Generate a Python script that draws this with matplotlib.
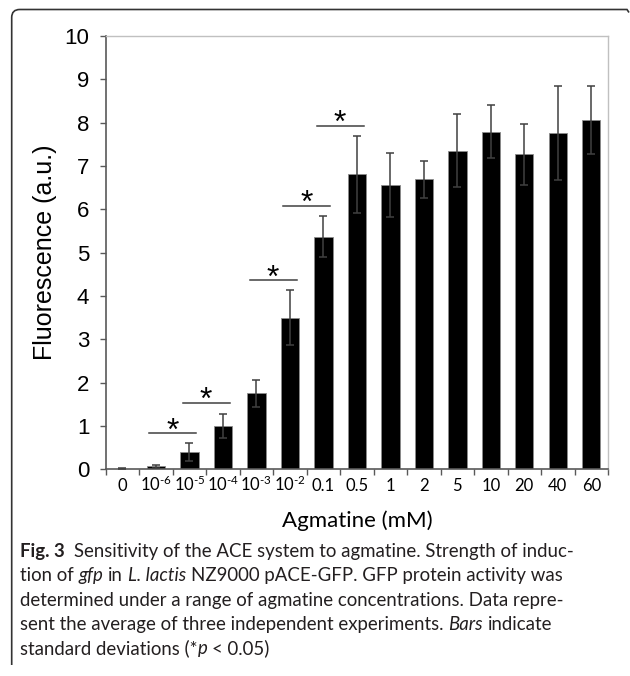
import numpy as np
import matplotlib
matplotlib.use("Agg")
import matplotlib.pyplot as plt
from matplotlib.path import Path
from matplotlib.patches import PathPatch

# data
conc_labels = ["0", "$10^{\u20106}$", "$10^{\u20105}$", "$10^{\u20104}$", "$10^{\u20103}$", "$10^{\u20102}$",
               "0.1", "0.5", "1", "2", "5", "10", "20", "40", "60"]
fluorescence = [0.01, 0.07, 0.40, 1.00, 1.75, 3.50, 5.37, 6.81, 6.56, 6.69, 7.35, 7.79, 7.27, 7.76, 8.06]
std_dev      = [0.01, 0.04, 0.20, 0.27, 0.31, 0.63, 0.48, 0.89, 0.73, 0.42, 0.84, 0.61, 0.70, 1.09, 0.78]

# significance brackets: (left bar, right bar, height)
sig_left  = [1, 2, 4, 5, 6]
sig_right = [2, 3, 5, 6, 7]
sig_y     = [0.83, 1.54, 4.37, 6.08, 7.93]

# caption, as runs of (text, style); style: n = normal, b = bold, i = italic
caption_lines = [
    [("Fig. 3  ", "b"), ("Sensitivity of the ACE system to agmatine. Strength of induc-", "n")],
    [("tion of ", "n"), ("gfp", "i"), (" in ", "n"), ("L. lactis", "i"),
     (" NZ9000 pACE-GFP. GFP protein activity was", "n")],
    [("determined under a range of agmatine concentrations. Data repre-", "n")],
    [("sent the average of three independent experiments. ", "n"), ("Bars", "i"), (" indicate", "n")],
    [("standard deviations (*", "n"), ("p", "i"), (" < 0.05)", "n")],
]

plt.rcParams.update({
    "mathtext.fontset": "custom",
    "mathtext.rm": "Lato",
    "mathtext.it": "Lato:italic",
    "mathtext.bf": "Lato:bold",
})

W, H = 630, 676
fig = plt.figure(figsize=(W / 100, H / 100), dpi=100)
ax = fig.add_axes([105.7 / W, 1 - 469.3 / H, (608 - 105.7) / W, (469.3 - 36) / H])

x = np.arange(len(conc_labels))
ax.bar(x, fluorescence, width=0.55, color="black", edgecolor="#8c8c8c", linewidth=0.6, zorder=2)
ax.errorbar(x, fluorescence, yerr=std_dev, fmt="none", ecolor="#404040",
            elinewidth=1.1, capsize=2.8, capthick=1.1, zorder=3)

for l, r, y in zip(sig_left, sig_right, sig_y):
    xm = (l + r) / 2
    ax.plot([xm - 0.7, xm + 0.7], [y, y], color="#404040", linewidth=1.1)
    ax.text(xm, y - 0.15, "*", ha="center", va="baseline", fontsize=23,
            family="Liberation Sans", color="black")

ax.set_xlim(-0.5, 14.5)
ax.set_ylim(0, 10)
ax.set_yticks(range(0, 11))
ax.tick_params(axis="y", direction="out", length=4.3, width=1, color="#595959",
               pad=7.5, labelsize=16)
for t in ax.get_yticklabels():
    t.set_family("Liberation Sans")

ax.set_xticks(np.arange(-0.5, 15, 1))
ax.set_xticklabels([])
ax.set_xticks(x, minor=True)
ax.set_xticklabels(conc_labels, minor=True, family="Lato", fontsize=12)
ax.tick_params(axis="x", which="major", direction="out", length=4, width=1, color="#595959")
ax.tick_params(axis="x", which="minor", length=0, pad=15.5)
for t in ax.get_xticklabels(minor=True):
    t.set_verticalalignment("baseline")

for side in ["left", "bottom"]:
    ax.spines[side].set_color("#595959")
    ax.spines[side].set_linewidth(1.2)
for side in ["top", "right"]:
    ax.spines[side].set_color("#c0c0c0")
    ax.spines[side].set_linewidth(1.0)

ax.set_ylabel("Fluorescence (a.u.)", family="Liberation Sans", fontsize=18)
ax.yaxis.set_label_coords(-0.097, 0.5)
ax.set_xlabel("Agmatine (mM)", family="Lato", fontsize=16)
ax.xaxis.set_label_coords(0.5, -0.095)

# caption, drawn run by run
renderer = fig.canvas.get_renderer()
cap_kw = dict(family="Lato", fontsize=13.4, ha="left", va="baseline", color="#231f20")
styles = {"n": {}, "b": {"fontweight": "bold"}, "i": {"fontstyle": "italic"}}


def run_width(s, st):
    t = fig.text(0, 0, s, **cap_kw, **styles[st])
    w = t.get_window_extent(renderer).width
    t.remove()
    return w


space_w = run_width("x x", "n") - run_width("xx", "n")
for i, runs in enumerate(caption_lines):
    ypos = 1 - (557 + 24.3 * i) / H
    xpix = 20.0
    for s, st in runs:
        core = s.strip()
        xpix += (len(s) - len(s.lstrip())) * space_w
        fig.text(xpix / W, ypos, core, **cap_kw, **styles[st])
        xpix += run_width(core, st)
        xpix += (len(s) - len(s.rstrip())) * space_w

# border: rounded top-left corner, open at bottom
bx, by, rr = 11.7, 9.5, 8
pts = [(bx, 665), (bx, by + rr), (bx, by), (bx + rr, by), (627, by), (629, by + 3)]
codes = [Path.MOVETO, Path.LINETO, Path.CURVE3, Path.CURVE3, Path.LINETO, Path.LINETO]
pts = [(px / W, 1 - py / H) for px, py in pts]
fig.patches.append(PathPatch(Path(pts, codes), transform=fig.transFigure,
                             facecolor="none", edgecolor="#333333", linewidth=1.2))

fig.savefig("out.png", dpi=100)
